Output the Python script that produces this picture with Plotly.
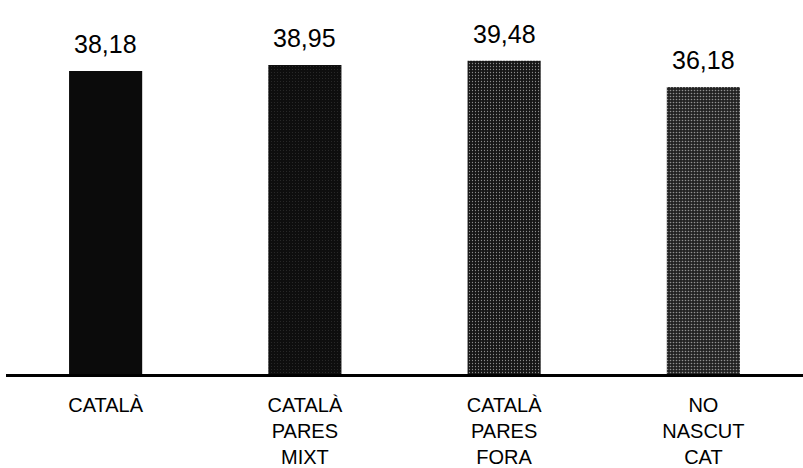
import plotly.graph_objects as go

categories = ["CATALÀ", "CATALÀ<br>PARES<br>MIXT", "CATALÀ<br>PARES<br>FORA", "NO<br>NASCUT<br>CAT"]
values = [38.18, 38.95, 39.48, 36.18]
value_labels = ["38,18", "38,95", "39,48", "36,18"]
bar_colors = ["#0b0b0b", "#0e0e0e", "#161616", "#222222"]
speckle = [0.0, 0.04, 0.14, 0.24]

FONT = "Liberation Sans, Arial, sans-serif"

fig = go.Figure()
fig.add_trace(go.Bar(
    x=categories,
    y=values,
    marker=dict(
        color=bar_colors,
        line=dict(width=0),
        pattern=dict(
            shape=["", ".", ".", "."],
            fgcolor="#ffffff",
            bgcolor=bar_colors,
            size=3,
            solidity=[max(s, 0.01) for s in speckle],
            fillmode="overlay",
        ),
    ),
    width=0.367,
    hoverinfo="skip",
))

for c, v, t in zip(categories, values, value_labels):
    fig.add_annotation(
        x=c, y=v, text=t, showarrow=False,
        yanchor="bottom", yshift=11,
        font=dict(family=FONT, size=25, color="#000000"),
    )

fig.update_layout(
    width=803, height=468,
    margin=dict(l=6, r=0, t=17, b=94, autoexpand=False),
    paper_bgcolor="#ffffff",
    plot_bgcolor="#ffffff",
    showlegend=False,
    xaxis=dict(
        showline=True, linewidth=3, linecolor="#000000",
        showgrid=False, zeroline=False, automargin=False,
        ticks="", ticklabelstandoff=11,
        tickfont=dict(family=FONT, size=20, color="#000000"),
    ),
    yaxis=dict(
        range=[0, 45], visible=False, showgrid=False, zeroline=False,
        automargin=False,
    ),
)

fig.write_html(
    "out.html",
    config={"displayModeBar": False},
    post_script="document.body.style.margin='0';document.body.style.overflow='hidden';",
)
